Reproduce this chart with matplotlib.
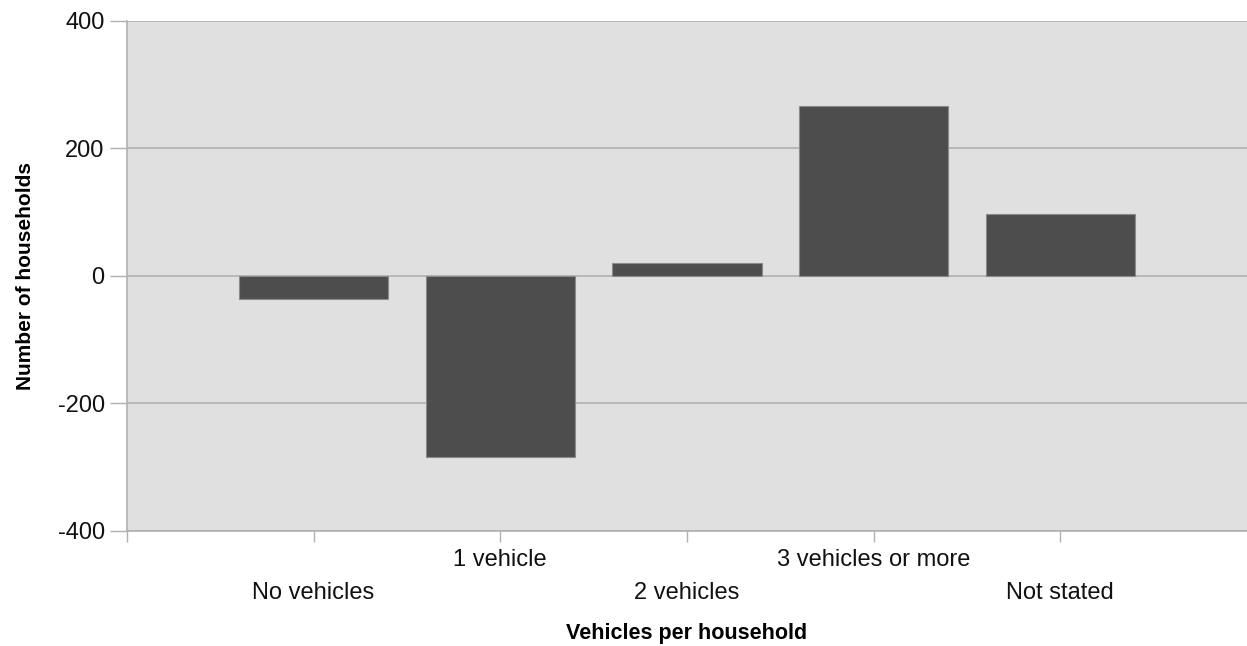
import matplotlib.pyplot as plt

plt.rcParams['font.family'] = ['Liberation Sans', 'DejaVu Sans']
plt.rcParams['axes.unicode_minus'] = False

# Change in number of households by vehicle availability
categories = ['No vehicles', '1 vehicle', '2 vehicles', '3 vehicles or more', 'Not stated']
values = [-36, -284, 20, 267, 97]

fig = plt.figure(figsize=(12.47, 6.46), dpi=100)
ax = fig.add_axes([0.1018, 0.1785, 0.8982, 0.789])
ax.set_facecolor('#e0e0e0')

x = list(range(len(categories)))
ax.bar(x, values, width=0.8, color='#4d4d4d', edgecolor='#8a8a8a', linewidth=0.8, zorder=3)

ax.set_xlim(-1, len(categories))
ax.set_ylim(-400, 400)
ax.set_yticks([-400, -200, 0, 200, 400])
ax.yaxis.grid(True, color='#b0b0b0', linewidth=1.2, zorder=1)

# tick marks between slots, labels staggered in two rows
ax.set_xticks(list(range(-1, len(categories))), minor=True)
ax.tick_params(axis='x', which='minor', length=8, width=1, color='#b0b0b0')
ax.set_xticks(x)
labels = [('\n' + c) if i % 2 == 0 else c for i, c in enumerate(categories)]
ax.set_xticklabels(labels, fontsize=17, color='#111111')
for t in ax.get_xticklabels():
    t.set_linespacing(1.65)
ax.tick_params(axis='x', which='major', length=8, width=1, color='#b0b0b0', pad=5)
ax.tick_params(axis='y', length=12, width=1, color='#b0b0b0', labelsize=17, labelcolor='#111111', pad=4)

for side in ['top', 'right']:
    ax.spines[side].set_visible(False)
for side in ['left', 'bottom']:
    ax.spines[side].set_color('#b0b0b0')
    ax.spines[side].set_linewidth(1.2)

ax.set_xlabel('Vehicles per household', fontsize=15.5, fontweight='bold', labelpad=14)
ax.set_ylabel('Number of households', fontsize=15, fontweight='bold', labelpad=16)

fig.savefig('out.png', dpi=100)
